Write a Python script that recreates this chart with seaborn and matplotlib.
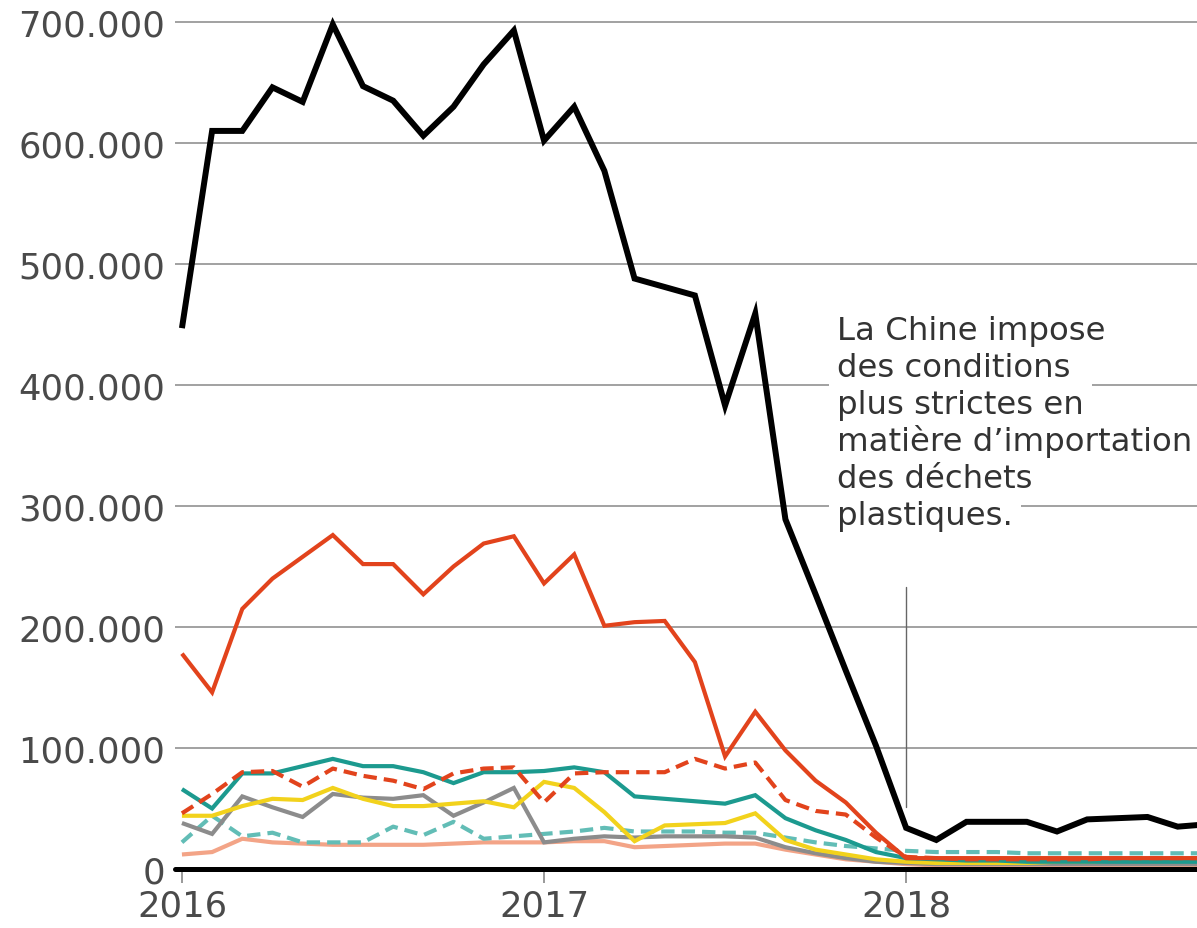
import numpy as np
import pandas as pd
import matplotlib
matplotlib.use("Agg")
import matplotlib.pyplot as plt
from matplotlib.ticker import FuncFormatter
import seaborn as sns

# Mois : janvier 2016 (0) -> novembre 2018 (34)
mois = np.arange(35)
annees = ["2016", "2017", "2018"]
pos_annees = [0, 12, 24]

# Valeurs (en milliers de tonnes)
noir = [447, 610, 610, 646, 634, 698, 647, 635, 606, 630, 665, 693,
        602, 630, 577, 488, 481, 474, 383, 459, 289, 227, 164, 102,
        34, 24, 39, 39, 39, 31, 41, 42, 43, 35, 37]
rouge = [178, 146, 215, 240, 258, 276, 252, 252, 227, 250, 269, 275,
         236, 260, 201, 204, 205, 171, 93, 130, 98, 73, 55, 30,
         9, 9, 9, 9, 9, 9, 9, 9, 9, 9, 9]
rouge_tirets = [46, 62, 80, 81, 68, 83, 77, 73, 66, 79, 83, 84,
                55, 79, 80, 80, 80, 91, 83, 88, 57, 48, 45, 26,
                10, 9, 8, 8, 8, 8, 8, 9, 9, 9, 9]
sarcelle = [66, 50, 79, 79, 85, 91, 85, 85, 80, 71, 80, 80,
            81, 84, 80, 60, 58, 56, 54, 61, 42, 32, 24, 14,
            9, 8, 7, 7, 6, 6, 6, 6, 6, 6, 6]
jaune = [44, 44, 52, 58, 57, 67, 58, 52, 52, 54, 56, 51,
         72, 67, 47, 23, 36, 37, 38, 46, 24, 16, 12, 8,
         6, 5, 5, 5, 5, 6, 6, 7, 8, 8, 9]
gris = [38, 29, 60, 51, 43, 62, 59, 58, 61, 44, 55, 67,
        22, 25, 27, 26, 27, 27, 27, 26, 18, 13, 9, 6,
        5, 4, 4, 4, 4, 4, 4, 4, 4, 4, 4]
sarcelle_tirets = [22, 44, 27, 30, 22, 22, 22, 35, 28, 39, 25, 27,
                   29, 31, 34, 31, 31, 31, 30, 30, 26, 22, 19, 17,
                   15, 14, 14, 14, 13, 13, 13, 13, 13, 13, 13]
saumon = [12, 14, 25, 22, 21, 20, 20, 20, 20, 21, 22, 22,
          22, 23, 23, 18, 19, 20, 21, 21, 16, 12, 8, 6,
          4, 3, 3, 3, 3, 3, 3, 3, 3, 3, 3]

annotation = ["La Chine impose", "des conditions", "plus strictes en",
              "matière d’importation", "des déchets", "plastiques."]

# (série, couleur, épaisseur, style) dans l'ordre de tracé
series = [
    (saumon, "#f3a487", 3.0, "-"),
    (sarcelle_tirets, "#62bdb6", 3.0, (0, (3.2, 1.7))),
    (gris, "#8c8c8c", 3.0, "-"),
    (jaune, "#f2d21c", 3.0, "-"),
    (sarcelle, "#1c9a8f", 3.0, "-"),
    (rouge_tirets, "#e2431c", 3.0, (0, (3.2, 1.7))),
    (rouge, "#e2431c", 3.0, "-"),
    (noir, "#000000", 4.3, "-"),
]

sns.set_style("white")
plt.rcParams['font.family'] = ['DejaVu Sans']

fig = plt.figure(figsize=(11.97, 9.29), dpi=100)
ax = fig.add_axes([175 / 1197, 59 / 929, 1022 / 1197, 861.5 / 929])

for valeurs, couleur, lw, style in series:
    sns.lineplot(x=mois, y=np.array(valeurs) * 1000, ax=ax, color=couleur,
                 linewidth=lw, linestyle=style, solid_joinstyle="miter",
                 solid_capstyle="butt", dash_capstyle="butt")

ax.set_xlim(-0.23, 33.64)
ax.set_ylim(0, 712000)
ax.set_yticks(range(0, 700001, 100000))
ax.yaxis.set_major_formatter(FuncFormatter(lambda v, p: f"{int(v):,}".replace(",", ".")))
ax.set_xticks(pos_annees, labels=annees)

ax.grid(axis="y", color="#9a9a9a", linewidth=1.3)
ax.set_axisbelow(True)
for s in ax.spines.values():
    s.set_visible(False)
ax.axhline(0, color="black", linewidth=3.6, zorder=5, clip_on=False)

ax.tick_params(axis="y", length=0, pad=7, labelsize=25.5, labelcolor="#4a4a4a")
ax.tick_params(axis="x", length=0, pad=14, labelsize=25.5, labelcolor="#4a4a4a")
ax.set_xlabel("")
ax.set_ylabel("")

# Petites graduations sous l'axe aux années
ax.vlines(pos_annees, -0.016, 0, transform=ax.get_xaxis_transform(),
          color="#888888", linewidth=1.2, clip_on=False, zorder=4)

# Ligne verticale de l'annotation (janvier 2018)
ax.plot([24, 24], [51000, 233000], color="#666666", linewidth=1.0, zorder=1)

# Texte de l'annotation : d'abord les fonds blancs, puis le texte par-dessus
for i, ligne in enumerate(annotation):
    y = 438000 - i * 30600
    ax.text(21.72, y, ligne, fontsize=23.3, color="none", ha="left", va="baseline",
            bbox=dict(boxstyle="square,pad=0.25", facecolor="white", edgecolor="none"),
            zorder=3)
    ax.text(21.72, y, ligne, fontsize=23.3, color="#333333", ha="left", va="baseline",
            zorder=4)

fig.savefig("out.png", dpi=100)
